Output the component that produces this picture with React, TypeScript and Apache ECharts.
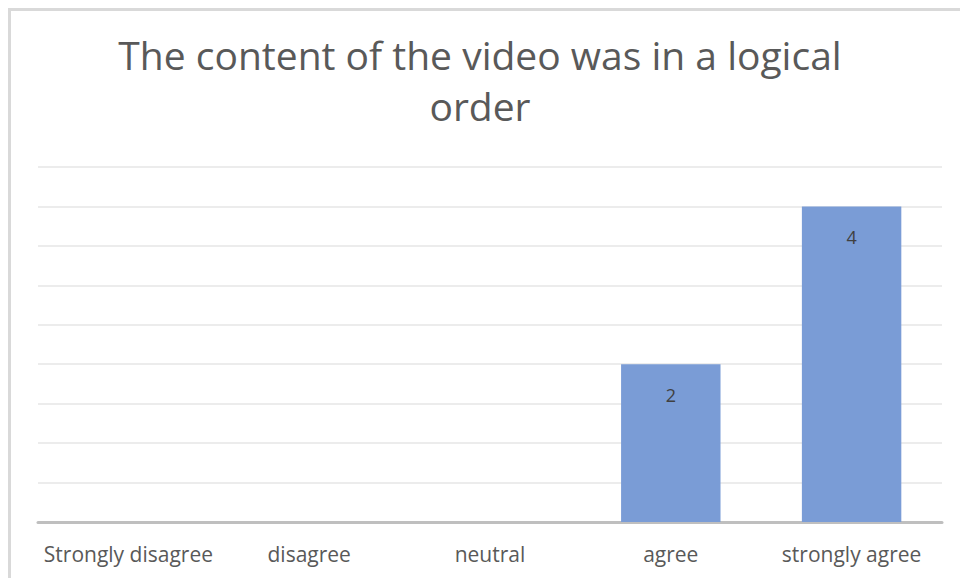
import React, { useEffect, useRef } from "react";
import * as echarts from "echarts";

const categories = ["Strongly disagree", "disagree", "neutral", "agree", "strongly agree"];
const counts = [null, null, null, 2, 4];
const titleText = "The content of the video was in a logical\norder";

export default function App() {
  const ref = useRef<HTMLDivElement>(null);
  useEffect(() => {
    const chart = echarts.init(ref.current!, null, { renderer: "svg" });
    chart.setOption({
      animation: false,
      backgroundColor: "#ffffff",
      title: {
        text: titleText,
        left: "center",
        top: 24,
        textStyle: {
          fontFamily: "Open Sans",
          fontSize: 39,
          fontWeight: "normal",
          color: "#595959",
          lineHeight: 51,
        },
      },
      graphic: [
        {
          type: "rect",
          shape: { x: 9.5, y: 9.5, width: 980, height: 600 },
          style: { fill: "none", stroke: "#d9d9d9", lineWidth: 3 },
          silent: true,
        },
      ],
      grid: { left: 38, right: 18, top: 167, bottom: 56, containLabel: false },
      xAxis: {
        type: "category",
        data: categories,
        axisLine: { lineStyle: { color: "#bfbfbf", width: 3 } },
        axisTick: { show: false },
        axisLabel: {
          fontFamily: "Open Sans",
          fontSize: 21,
          color: "#595959",
          margin: 21,
          interval: 0,
        },
      },
      yAxis: {
        type: "value",
        min: 0,
        max: 4.5,
        interval: 0.5,
        axisLabel: { show: false },
        axisLine: { show: false },
        axisTick: { show: false },
        splitLine: { lineStyle: { color: "#ececec", width: 2 } },
      },
      series: [
        {
          type: "bar",
          data: counts,
          barWidth: "55%",
          itemStyle: { color: "#7a9cd6" },
          label: {
            show: true,
            position: "insideTop",
            distance: 22,
            fontFamily: "Open Sans",
            fontSize: 18,
            color: "#404040",
          },
        },
      ],
    });
    return () => chart.dispose();
  }, []);
  return (
    <div
      ref={ref}
      style={{ position: "fixed", left: 0, top: 0, width: 960, height: 578 }}
    />
  );
}
